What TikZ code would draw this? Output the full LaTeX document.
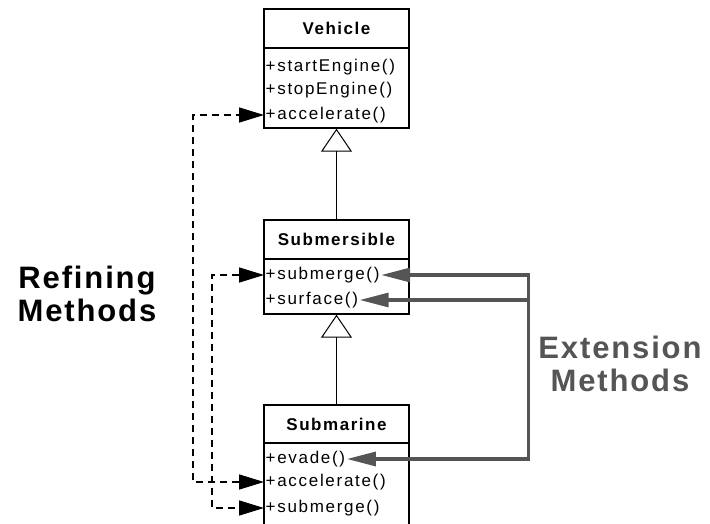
\documentclass[tikz,border=0pt]{standalone}
\usepackage{fontspec}
\setmainfont{Liberation Sans}
\newfontfamily\opfamily{Liberation Sans}[LetterSpace=10]
\newfontfamily\clsfamily{Liberation Sans}[LetterSpace=9]
\newfontfamily\lblfamily{Liberation Sans}[LetterSpace=6]
\newcommand\opFont{\opfamily\fontsize{17}{19}\selectfont}
\newcommand\clsFont{\clsfamily\bfseries\fontsize{17}{19}\selectfont}
\newcommand\lblFont{\lblfamily\bfseries\fontsize{31}{33}\selectfont}
\usetikzlibrary{arrows.meta}
\definecolor{extgray}{RGB}{85,85,85}

\tikzset{
  classtitle/.style={draw, line width=1.4pt, minimum width=145pt, inner sep=0pt, font=\clsFont},
  classbody/.style={draw, line width=1.4pt, minimum width=145pt, inner sep=0pt},
  op/.style={anchor=west, inner sep=1.5pt, font=\opFont, text height=12.6pt, text depth=3.8pt},
  inherit/.style={line width=1pt, -{Triangle[open, length=23pt, width=31pt, line width=1pt]}},
  reftip/.tip={Triangle[length=25pt, width=15pt]},
  exttip/.tip={Triangle[length=29pt, width=14pt]},
  refine/.style={line width=1.5pt, dash pattern=on 7pt off 5pt, reftip-reftip},
  extend/.style={line width=3.2pt, color=extgray},
  sidelabel/.style={align=center, font=\lblFont, inner sep=0pt},
}

\begin{document}
\begin{tikzpicture}[x=1pt, y=-1pt]
  \useasboundingbox (0,0) rectangle (710,524);
  \clip (0,0) rectangle (710,524);

  % Vehicle
  \node[classtitle, minimum height=39pt] (vehicle) at (336.5,28.5) {Vehicle};
  \node[classbody, minimum height=80pt] (vehicleops) at (336.5,88) {};
  \node[op] (vstart) at (264,67) {+startEngine()};
  \node[op] (vstop) at (264,90) {+stopEngine()};
  \node[op] (vaccel) at (264,115) {+accelerate()};

  % Submersible
  \node[classtitle, minimum height=39pt] (submersible) at (336.5,239.5) {Submersible};
  \node[classbody, minimum height=55pt] (submersibleops) at (336.5,286.5) {};
  \node[op] (ssubmerge) at (264,275) {+submerge()};
  \node[op] (ssurface) at (264,300) {+surface()};

  % Submarine (body runs past the lower edge)
  \node[classtitle, minimum height=38pt] (submarine) at (336.5,424) {Submarine};
  \node[classbody, minimum height=100pt] (submarineops) at (336.5,493) {};
  \node[op] (mevade) at (264,459) {+evade()};
  \node[op] (maccel) at (264,482) {+accelerate()};
  \node[op] (msubmerge) at (264,508) {+submerge()};

  % Generalisation
  \draw[inherit] (submersible.north) -- (vehicleops.south);
  \draw[inherit] (submarine.north) -- (submersibleops.south);

  % Refining methods (dashed)
  \coordinate (outerrail) at (193,0);
  \coordinate (innerrail) at (212,0);
  \draw[refine] (maccel.west) -- (maccel.west -| outerrail)
    -- (vaccel.west -| outerrail) -- (vaccel.west);
  \draw[refine] (ssubmerge.west) -- (ssubmerge.west -| innerrail)
    -- (msubmerge.west -| innerrail) -- (msubmerge.west);

  % Extension methods (grey)
  \coordinate (extrail) at (528.5,0);
  \draw[extend, exttip-exttip] (ssubmerge.east) -- (ssubmerge.east -| extrail)
    -- (mevade.east -| extrail) -- (mevade.east);
  \draw[extend, exttip-] (ssurface.east) -- (ssurface.east -| extrail);

  % Side labels
  \node[sidelabel] (refininglbl) at (87,294) {Refining\\Methods};
  \node[sidelabel, text=extgray] (extensionlbl) at (620,364) {Extension\\Methods};
\end{tikzpicture}
\end{document}
